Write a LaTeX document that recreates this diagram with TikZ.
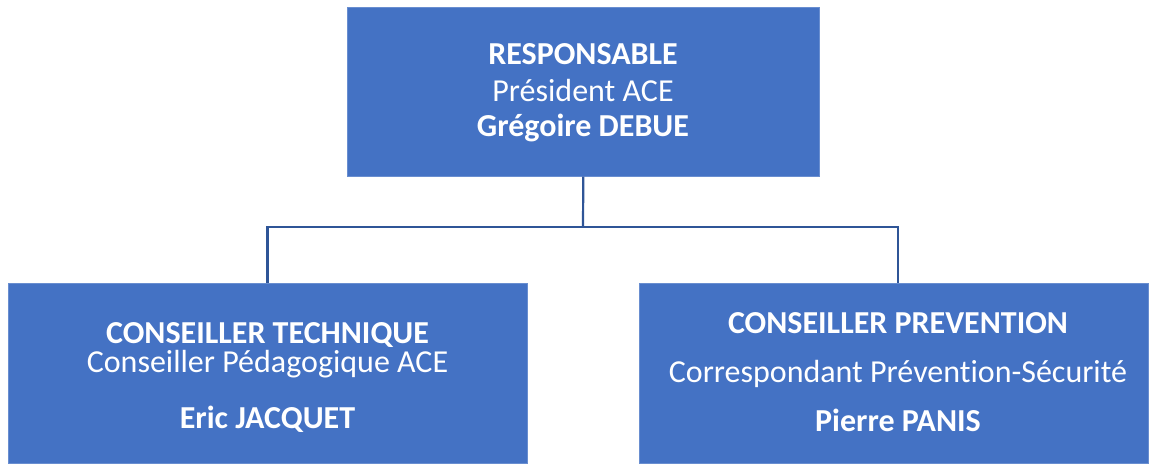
\documentclass[tikz,border=0pt]{standalone}
\usepackage{fontspec}
\setmainfont{Carlito}[Ligatures={NoCommon}]
\definecolor{boxblue}{HTML}{4472C4}
\definecolor{linkblue}{HTML}{2F5597}
\begin{document}
\begin{tikzpicture}[x=1pt,y=-1pt,
  box/.style={fill=boxblue,draw=boxblue!80!white,line width=0.6pt,inner sep=0pt,anchor=north west},
  txt/.style={text=white,font=\fontsize{32}{38}\selectfont,inner sep=0pt,anchor=base},
  btxt/.style={txt,font=\fontsize{32}{38}\selectfont\bfseries},
  link/.style={draw=linkblue,line width=2.2pt}]
\useasboundingbox (0,0) rectangle (1149,465);
% boxes
\node[box,minimum width=472pt,minimum height=169pt] (top) at (347,7) {};
\node[box,minimum width=519pt,minimum height=180pt] (left) at (8,283) {};
\node[box,minimum width=509pt,minimum height=180pt] (right) at (639,283) {};
% connectors
\coordinate (bus) at (583,227);
\draw[link] (top.south) -- (bus);
\draw[link] (left.north -| 267.5,0) |- (bus) -| (right.north -| 898,0);
% top text
\node[btxt] (t1) at (583,65) {RESPONSABLE};
\node[txt] (t2) at (583,102) {Président ACE};
\node[btxt] (t3) at (583,137) {Grégoire DEBUE};
% left text
\node[btxt] (l1) at (267.5,343) {CONSEILLER TECHNIQUE};
\node[txt] (l2) at (267.5,372) {Conseiller Pédagogique ACE};
\node[btxt] (l3) at (267.5,428) {Eric JACQUET};
% right text
\node[btxt] (r1) at (898,333) {CONSEILLER PREVENTION};
\node[txt] (r2) at (898,382) {Correspondant Prévention-Sécurité};
\node[btxt] (r3) at (898,431) {Pierre PANIS};
\end{tikzpicture}
\end{document}
